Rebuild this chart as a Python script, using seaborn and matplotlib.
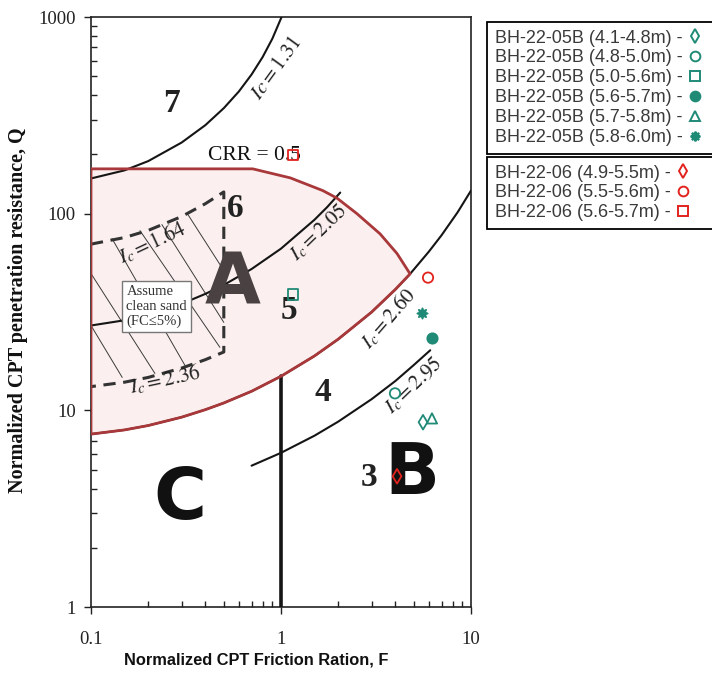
import matplotlib
matplotlib.use("Agg")
import matplotlib.pyplot as plt
from matplotlib.lines import Line2D
from matplotlib.ticker import FuncFormatter, NullFormatter
import seaborn as sns

# ---- chart data ----
# boundary curves: F = normalized friction ratio, Q = normalized tip resistance
ic131_F = [0.1, 0.15, 0.2, 0.3, 0.4, 0.5, 0.6, 0.7, 0.8, 0.9, 1.0, 1.03]
ic131_Q = [151, 166, 185, 230, 282, 344, 418, 510, 625, 775, 984, 1064]

ic205_F = [0.1, 0.15, 0.2, 0.3, 0.4, 0.5, 0.7, 1.0, 1.5, 1.75, 2.05]
ic205_Q = [27.0, 28.7, 30.7, 34.8, 39.1, 43.4, 52.3, 66.4, 93.1, 108, 128]

ic260_F = [0.1, 0.15, 0.2, 0.3, 0.4, 0.5, 0.7, 1.0, 1.5, 2.0, 3.0, 4.0, 4.78, 6.0, 7.0, 8.5, 10]
ic260_Q = [7.57, 7.95, 8.37, 9.23, 10.08, 10.9, 12.5, 14.9, 18.9, 23.0, 31.6, 41.2, 49.4, 64.1, 77.7, 101.6, 131]

ic295_F = [0.7, 1.0, 1.5, 2.0, 3.0, 4.0, 5.0, 6.1]
ic295_Q = [5.23, 6.08, 7.43, 8.76, 11.4, 14.1, 17.0, 20.2]

ic164_F = [0.1, 0.15, 0.2, 0.3, 0.4, 0.5]
ic164_Q = [70.0, 75.6, 82.2, 96.7, 112.4, 129]
ic236_F = [0.1, 0.15, 0.2, 0.3, 0.4, 0.5]
ic236_Q = [13.2, 13.9, 14.7, 16.4, 18.1, 19.8]

# CRR = 0.5 upper boundary of zone A
crr_F = [0.1, 0.71, 1.12, 1.66, 1.97, 2.51, 3.32, 4.08, 4.78]
crr_Q = [169, 169, 152, 131, 120, 100, 79, 62.7, 49.4]

# vertical boundary at F = 1
split_F = [1.0, 1.0]
split_Q = [1.0, 14.9]

# hatch lines in the "clean sand" strip (start, end)
hatch_F = [(0.1, 0.146), (0.1, 0.217), (0.129, 0.3125), (0.181, 0.477), (0.236, 0.5), (0.324, 0.5)]
hatch_Q = [(27.0, 14.7), (49.6, 15.4), (74.7, 16.9), (82.0, 20.9), (88.0, 28.0), (98.8, 51.4)]

# test results
labels_05B = ["BH-22-05B (4.1-4.8m) -", "BH-22-05B (4.8-5.0m) -", "BH-22-05B (5.0-5.6m) -",
              "BH-22-05B (5.6-5.7m) -", "BH-22-05B (5.7-5.8m) -", "BH-22-05B (5.8-6.0m) -"]
F_05B = [5.59, 3.98, 1.16, 6.23, 6.23, 5.52]
Q_05B = [8.7, 12.2, 38.8, 23.2, 9.1, 31.1]
markers_05B = ["d", "o", "s", "o", "^", (8, 1, 0)]
filled_05B = [False, False, False, True, False, True]

labels_06 = ["BH-22-06 (4.9-5.5m) -", "BH-22-06 (5.5-5.6m) -", "BH-22-06 (5.6-5.7m) -"]
F_06 = [4.08, 5.94, 1.16]
Q_06 = [4.62, 47.3, 199]
markers_06 = ["d", "o", "s"]
filled_06 = [False, False, False]

teal = "#1f8a76"
red = "#e2231d"
edge_red = "#a8383a"

sns.set_theme(style="ticks")
plt.rcParams['font.family'] = ['Liberation Serif', 'DejaVu Serif']
plt.rcParams['mathtext.fontset'] = 'stix'

fig = plt.figure(figsize=(7.12, 6.75), dpi=100)
ax = fig.add_axes([91 / 712, 1 - 607 / 675, 380 / 712, 590 / 675])
ax.set_xscale('log')
ax.set_yscale('log')
ax.set_xlim(0.1, 10)
ax.set_ylim(1, 1000)

# zone A (pink) with its red outline
zone_F = crr_F + ic260_F[:13][::-1]
zone_Q = crr_Q + ic260_Q[:13][::-1]
ax.fill(zone_F, zone_Q, color='#fbf0ef', lw=0, zorder=1)

# hatching and the dashed clean-sand box
for hf, hq in zip(hatch_F, hatch_Q):
    ax.plot(hf, hq, color='#3a3a3a', lw=0.7, zorder=2)
clean_F = ic164_F + ic236_F[::-1]
clean_Q = ic164_Q + ic236_Q[::-1]
ax.plot(clean_F, clean_Q, color='#333333', lw=2.2, ls=(0, (4, 2.5)), zorder=3)

# Ic curves
for cf, cq in [(ic131_F, ic131_Q), (ic205_F, ic205_Q), (ic260_F, ic260_Q), (ic295_F, ic295_Q)]:
    ax.plot(cf, cq, color='#151515', lw=1.5, zorder=3)
ax.plot(split_F, split_Q, color='#151515', lw=2.6, zorder=3)
ax.plot(zone_F + [crr_F[0]], zone_Q + [crr_Q[0]], color=edge_red, lw=2, zorder=4)

# curve labels
ic_kw = dict(fontsize=15, color='#222222', ha='center', va='center', rotation_mode='anchor', zorder=5)
ax.text(0.953, 545, r"$\mathit{Ic=1.31}$", rotation=54, **ic_kw)
ax.text(1.585, 80.1, r"$\mathit{I_c=2.05}$", rotation=44, **ic_kw)
ax.text(0.2095, 71.3, r"$\mathit{I_c=1.64}$", rotation=25, **ic_kw)
ax.text(0.245, 14.4, r"$\mathit{I_c=2.36}$", rotation=12, **ic_kw)
ax.text(3.66, 29.3, r"$\mathit{I_c=2.60}$", rotation=49, **ic_kw)
ax.text(5.01, 13.4, r"$\mathit{I_c=2.95}$", rotation=44, **ic_kw)
ax.text(0.721, 197, "CRR = 0.5", fontsize=15.5, ha='center', va='center', color='#111111', zorder=5)

# zone numbers and letters
num_kw = dict(fontsize=24, fontweight='bold', ha='center', va='center', color='#222222', zorder=5)
ax.text(0.264, 362, "7", **num_kw)
ax.text(0.573, 106, "6", **num_kw)
ax.text(1.10, 32.2, "5", **num_kw)
ax.text(1.66, 12.3, "4", **num_kw)
ax.text(2.90, 4.57, "3", **num_kw)
big_kw = dict(fontsize=52, fontweight='bold', family='DejaVu Sans', ha='center', va='center', zorder=5)
ax.text(0.558, 44.1, "A", color='#4a4242', **big_kw)
ax.text(4.89, 4.73, "B", color='#111111', **big_kw)
ax.text(0.294, 3.53, "C", color='#111111', **big_kw)

ax.text(0.222, 33.7, "Assume\nclean sand\n(FC≤5%)", fontsize=10.5, ha='center', va='center',
        multialignment='left', linespacing=1.15, color='#333333', zorder=6,
        bbox=dict(boxstyle='square,pad=0.3', fc='white', ec='#777777', lw=1))

# test points
for f, q, m, full, c in zip(F_05B + F_06, Q_05B + Q_06, markers_05B + markers_06,
                            filled_05B + filled_06, [teal] * 6 + [red] * 3):
    sns.scatterplot(x=[f], y=[q], marker=m, s=55, color=c,
                    facecolor=c if full else 'none', edgecolor=c, linewidth=1.3, zorder=7, ax=ax)

# axes styling
for sp in ax.spines.values():
    sp.set_color('#222222')
    sp.set_linewidth(1.2)
fmt = FuncFormatter(lambda v, p: f"{v:g}")
ax.xaxis.set_major_formatter(fmt)
ax.yaxis.set_major_formatter(fmt)
ax.xaxis.set_minor_formatter(NullFormatter())
ax.yaxis.set_minor_formatter(NullFormatter())
ax.tick_params(which='major', direction='out', length=5, width=1, colors='#222222', labelsize=13.5)
ax.tick_params(which='minor', direction='in', length=4, width=1, colors='#222222')
ax.tick_params(axis='x', which='major', pad=12)
ax.tick_params(axis='y', which='major', pad=6)
ax.grid(False)

fig.text(256 / 712, 1 - 660 / 675, "Normalized CPT Friction Ration, F", ha='center', va='center',
         fontsize=11.8, fontweight='bold', family='Liberation Sans', color='#111111')
fig.text(18 / 712, 1 - 310 / 675, "Normalized CPT penetration resistance, Q", ha='center', va='center',
         rotation=90, rotation_mode='anchor', fontsize=14.5, fontweight='bold', color='#111111')

# legends: label first, marker after it
def handles(markers, filled, color):
    return [Line2D([], [], ls='none', marker=m, color=color, mfc=color if full else 'none',
                   mec=color, ms=7, mew=1.4) for m, full in zip(markers, filled)]

leg_kw = dict(loc='upper left', mode='expand', markerfirst=False, frameon=True, fancybox=False,
              edgecolor='black', facecolor='white', framealpha=1,
              prop={'family': 'Liberation Sans', 'size': 13}, labelcolor='#3a3a3a',
              handlelength=0.8, handletextpad=0.3, borderpad=0.42, labelspacing=0.16,
              borderaxespad=0)
leg1 = fig.legend(handles=handles(markers_05B, filled_05B, teal), labels=labels_05B,
                  bbox_to_anchor=(487 / 712, 1 - 153 / 675, 0.45, 131 / 675), **leg_kw)
leg2 = fig.legend(handles=handles(markers_06, filled_06, red), labels=labels_06,
                  bbox_to_anchor=(487 / 712, 1 - 228 / 675, 0.45, 71 / 675), **leg_kw)
for leg in (leg1, leg2):
    leg.get_frame().set_linewidth(1.3)

fig.savefig("out.png", dpi=100)
